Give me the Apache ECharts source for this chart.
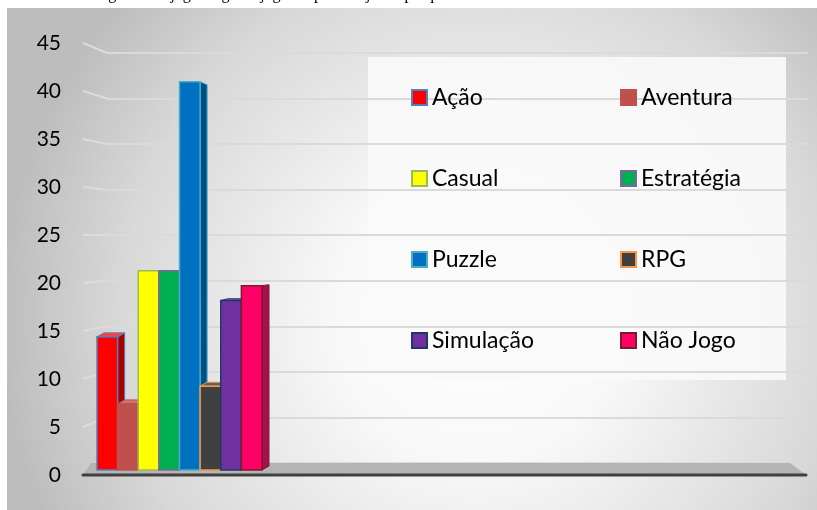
<!DOCTYPE html>
<html>
<head>
<meta charset="utf-8">
<script src="https://cdn.jsdelivr.net/npm/echarts@6/dist/echarts.min.js"></script>
<style>
  html, body { margin: 0; padding: 0; background: #ffffff; }
  #chart { width: 817px; height: 510px; }
</style>
</head>
<body>
<div id="chart"></div>
<script>
// Categories of digital games and the share of players for each one
const titleText = 'Gráfico 8 – Categorias de jogos digitais jogados pelos sujeitos pesquisados';
const groupLabels = ['Categorias'];
const categories = ['Ação', 'Aventura', 'Casual', 'Estratégia', 'Puzzle', 'RPG', 'Simulação', 'Não Jogo'];
const values = [14.3, 7.1, 21.4, 21.4, 41.7, 9.0, 18.2, 19.8];
const axisMin = 0;
const axisMax = 45;
const axisStep = 5;

// Styling of each column: front face, outline and shaded side
const fillColors = ['#ff0000', '#c0504d', '#ffff00', '#00b050', '#0070c0', '#404040', '#7030a0', '#ff0066'];
const edgeColors = ['#4f81bd', '#c0504d', '#9bbb59', '#8064a2', '#4bacc6', '#f79646', '#1f3864', '#7b1c2e'];
const sideColors = ['#a80000', '#a23c39', '#b3b300', '#007a3d', '#004e86', '#2c2c2c', '#4e2170', '#a8104a'];
const topColors  = ['#ff4040', '#cf7370', '#ffff66', '#33c070', '#3390d0', '#606060', '#8a50b5', '#ff4d8f'];

const FONT = 'Lato, "Open Sans", sans-serif';
const DEPTH_X = 7;
const EYE_LEVEL = 272;   // pixel row where column tops stop showing their top face

const chart = echarts.init(document.getElementById('chart'), null, { renderer: 'canvas' });

function columnRenderer(idx) {
  return function (params, api) {
    const v = api.value(1);
    const base = api.coord([api.value(0), 0]);
    const top = api.coord([api.value(0), v]);
    const band = api.size([1, 0])[0];
    const bw = band / categories.length;
    const x0 = base[0] - band / 2 + idx * bw;
    const x1 = x0 + bw;
    const yt = top[1], yb = base[1];
    // simple perspective: tops below eye level recede upward, tops above it recede downward
    const dy = Math.max(-4, Math.min(3, -(yt - EYE_LEVEL) / 16));
    const children = [
      {
        type: 'polygon',
        shape: { points: [[x1, yt], [x1 + DEPTH_X, yt + dy], [x1 + DEPTH_X, yb - 4], [x1, yb]] },
        style: { fill: sideColors[idx], stroke: edgeColors[idx], lineWidth: 1 }
      }
    ];
    if (dy < -1) {
      children.push({
        type: 'polygon',
        shape: { points: [[x0, yt], [x0 + DEPTH_X, yt + dy], [x1 + DEPTH_X, yt + dy], [x1, yt]] },
        style: { fill: topColors[idx], stroke: edgeColors[idx], lineWidth: 1 }
      });
    }
    children.push({
      type: 'rect',
      shape: { x: x0, y: yt, width: bw, height: yb - yt },
      style: { fill: fillColors[idx], stroke: edgeColors[idx], lineWidth: 1.5 }
    });
    return { type: 'group', children: children };
  };
}

const series = categories.map(function (name, i) {
  return {
    name: name,
    type: 'custom',
    xAxisIndex: 2,
    yAxisIndex: 2,
    renderItem: columnRenderer(i),
    itemStyle: { color: fillColors[i], borderColor: edgeColors[i] },
    data: [[0, values[i]]],
    z: 5
  };
});

function legendItems(names) {
  return names.map(function (n) {
    const i = categories.indexOf(n);
    return { name: n, icon: 'rect', itemStyle: { color: fillColors[i], borderColor: edgeColors[i], borderWidth: 2 } };
  });
}

const hiddenValueX = { type: 'value', show: false, min: 0, max: 1 };
const legendText = { fontFamily: FONT, fontSize: 23, color: '#000000', lineHeight: 22 };

const option = {
  animation: false,
  title: {
    text: titleText,
    left: 2,
    top: -13,
    padding: 0,
    textStyle: { fontFamily: '"Liberation Serif", "DejaVu Serif", serif', fontSize: 16, fontWeight: 'normal', color: '#000000' }
  },
  grid: [
    { left: 83, top: 43, bottom: 35, width: 1 },          // value labels at the front edge
    { left: 107, top: 53, bottom: 47, right: 9 },         // back wall with grid lines
    { left: 97, top: 51, bottom: 40, width: 165 }         // columns
  ],
  xAxis: [
    Object.assign({ gridIndex: 0 }, hiddenValueX),
    Object.assign({ gridIndex: 1 }, hiddenValueX),
    { gridIndex: 2, type: 'category', data: groupLabels, show: false }
  ],
  yAxis: [
    {
      gridIndex: 0, type: 'value', min: axisMin, max: axisMax, interval: axisStep,
      axisLine: { show: false }, axisTick: { show: false }, splitLine: { show: false },
      axisLabel: { margin: 22, fontFamily: FONT, fontSize: 21, color: '#000000' }
    },
    {
      gridIndex: 1, type: 'value', min: axisMin, max: axisMax, interval: axisStep, z: 2,
      axisLine: { show: false }, axisTick: { show: false }, axisLabel: { show: false },
      splitLine: { show: true, lineStyle: { color: '#dadada', width: 2 } }
    },
    {
      gridIndex: 2, type: 'value', min: axisMin, max: axisMax, interval: axisStep, show: false
    }
  ],
  legend: [
    {
      orient: 'vertical', left: 411, top: 86, padding: 0, itemWidth: 15, itemHeight: 15, itemGap: 58,
      textStyle: legendText, selectedMode: false, z: 6,
      data: legendItems(['Ação', 'Casual', 'Puzzle', 'Simulação'])
    },
    {
      orient: 'vertical', left: 620, top: 86, padding: 0, itemWidth: 15, itemHeight: 15, itemGap: 58,
      textStyle: legendText, selectedMode: false, z: 6,
      data: legendItems(['Aventura', 'Estratégia', 'RPG', 'Não Jogo'])
    }
  ],
  series: series
};

chart.setOption(option);

// Chart-area backdrop, legend panel, side-wall strokes and floor, placed from the axes
const labelAt = function (v) { return chart.convertToPixel({ yAxisIndex: 0 }, v); };
const wallAt = function (v) { return chart.convertToPixel({ yAxisIndex: 1 }, v); };
const wallLeft = chart.convertToPixel({ xAxisIndex: 1 }, 0);
const wallRight = chart.convertToPixel({ xAxisIndex: 1 }, 1);
const frontLeft = chart.convertToPixel({ xAxisIndex: 0 }, 0);

const graphics = [
  {
    type: 'rect', z: -100, silent: true,
    shape: { x: 7, y: 8, width: 810, height: 502 },
    style: {
      fill: {
        type: 'radial', x: 0.58, y: 0.62, r: 0.95,
        colorStops: [
          { offset: 0, color: '#ffffff' },
          { offset: 0.3, color: '#f8f8f8' },
          { offset: 0.75, color: '#d8d8d8' },
          { offset: 1, color: '#bdbdbd' }
        ]
      }
    }
  },
  {
    type: 'rect', z: -50, silent: true,
    shape: { x: 368, y: 57, width: 418, height: 323 },
    style: { fill: 'rgba(249,249,249,0.9)' }
  }
];

for (let v = axisMin + axisStep; v <= axisMax; v += axisStep) {
  graphics.push({
    type: 'line', z: -40, silent: true,
    shape: { x1: frontLeft, y1: labelAt(v), x2: wallLeft, y2: wallAt(v) },
    style: { stroke: '#dcdcdc', lineWidth: 2 }
  });
}

const floorTop = wallAt(0);
const floorFront = labelAt(0);
graphics.push({
  type: 'polygon', z: 3, silent: true,
  shape: { points: [[frontLeft + 8, floorTop], [wallRight - 18, floorTop], [wallRight - 2, floorFront], [frontLeft, floorFront]] },
  style: { fill: '#b4b4b4' }
});
graphics.push({
  type: 'line', z: 3, silent: true,
  shape: { x1: frontLeft, y1: floorFront, x2: wallRight - 2, y2: floorFront },
  style: { stroke: '#404040', lineWidth: 3, lineCap: 'round' }
});

chart.setOption({ graphic: graphics });
</script>
</body>
</html>
